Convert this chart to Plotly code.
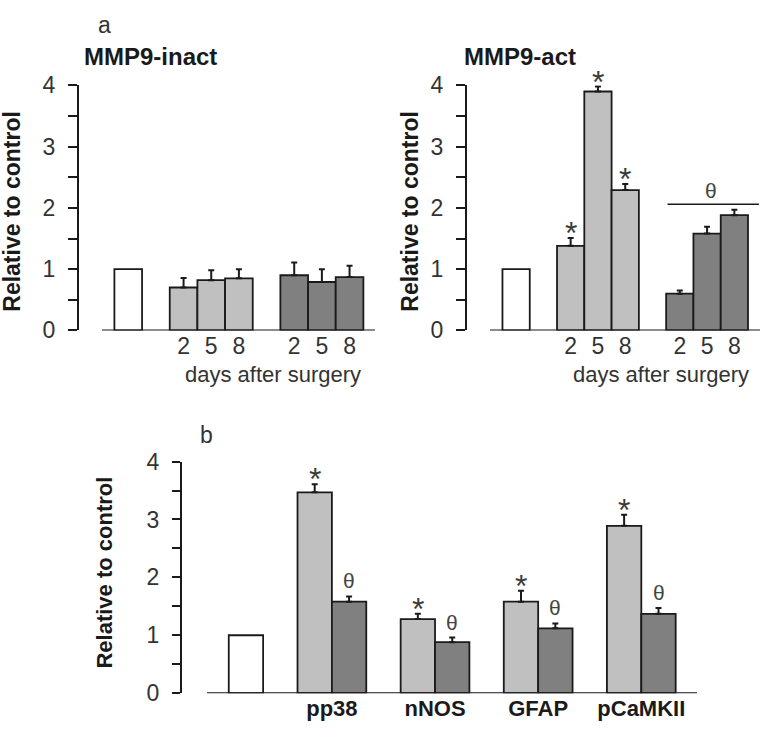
import plotly.graph_objects as go

# ---------------- data ----------------
ctrl_value = [1.0]

inact_light = [0.70, 0.82, 0.85]
inact_light_err = [0.155, 0.16, 0.15]
inact_dark = [0.90, 0.79, 0.87]
inact_dark_err = [0.21, 0.21, 0.185]

act_light = [1.38, 3.90, 2.29]
act_light_err = [0.13, 0.08, 0.10]
act_dark = [0.60, 1.58, 1.88]
act_dark_err = [0.05, 0.11, 0.09]

day_labels = ["2", "5", "8", "2", "5", "8"]

b_labels = ["pp38", "nNOS", "GFAP", "pCaMKII"]
b_light = [3.47, 1.28, 1.58, 2.89]
b_light_err = [0.14, 0.09, 0.19, 0.19]
b_dark = [1.58, 0.88, 1.12, 1.37]
b_dark_err = [0.09, 0.08, 0.085, 0.10]

y_tickvals = [0, 0.5, 1, 1.5, 2, 2.5, 3, 3.5, 4]
y_ticktext = ["0", "", "1", "", "2", "", "3", "", "4"]

# ---------------- layout helpers ----------------
W, H = 761, 737
FONT = "Liberation Sans, Arial, sans-serif"
LIGHT = "#c0c0c0"
DARK = "#808080"
AX = "#1a1a1a"
TXT = "#333333"


def px_x(p):
    return p / W


def px_y(p):
    return 1 - p / H


fig = go.Figure()

ctrl_pos = [0]
light_pos = [2, 3, 4]
dark_pos = [6, 7, 8]
b_light_pos = [2, 5, 8, 11]
b_dark_pos = [3, 6, 9, 12]
b_label_pos = [2.5, 5.5, 8.5, 11.5]


def add_bar(x, y, color, xa, ya, err=None):
    kw = {}
    if err is not None:
        kw["error_y"] = dict(type="data", symmetric=False, array=err,
                             arrayminus=[0] * len(err), thickness=2,
                             width=3, color=AX)
    fig.add_trace(go.Bar(x=x, y=y, width=1, marker=dict(color=color, line=dict(color=AX, width=1.8)),
                         xaxis=xa, yaxis=ya, showlegend=False, hoverinfo="skip", **kw))


add_bar(ctrl_pos, ctrl_value, "white", "x", "y")
add_bar(light_pos, inact_light, LIGHT, "x", "y", inact_light_err)
add_bar(dark_pos, inact_dark, DARK, "x", "y", inact_dark_err)
add_bar(ctrl_pos, ctrl_value, "white", "x2", "y2")
add_bar(light_pos, act_light, LIGHT, "x2", "y2", act_light_err)
add_bar(dark_pos, act_dark, DARK, "x2", "y2", act_dark_err)
add_bar(ctrl_pos, ctrl_value, "white", "x3", "y3")
add_bar(b_light_pos, b_light, LIGHT, "x3", "y3", b_light_err)
add_bar(b_dark_pos, b_dark, DARK, "x3", "y3", b_dark_err)

yaxis_common = dict(range=[0, 4], showline=True, linecolor=AX, linewidth=2,
                    ticks="outside", tickwidth=2, tickcolor=AX,
                    tickvals=y_tickvals, ticktext=y_ticktext, showgrid=False,
                    zeroline=False, tickfont=dict(family=FONT, size=23, color=TXT),
                    ticklabelstandoff=8)
xaxis_common = dict(showline=False, showgrid=False, zeroline=False, ticks="")

top_y = [px_y(329), px_y(75)]
fig.update_layout(
    width=W, height=H, margin=dict(l=0, r=0, t=0, b=0),
    paper_bgcolor="white", plot_bgcolor="white", barmode="overlay",
    xaxis=dict(domain=[px_x(79), px_x(375)], range=[-1.78, 8.92],
               tickvals=light_pos + dark_pos, ticktext=day_labels,
               tickfont=dict(family=FONT, size=23, color=TXT), **xaxis_common),
    yaxis=dict(domain=top_y, anchor="x", ticklen=9, **yaxis_common),
    xaxis2=dict(domain=[px_x(467), px_x(760)], range=[-1.8, 8.94], anchor="y2",
                tickvals=light_pos + dark_pos, ticktext=day_labels,
                tickfont=dict(family=FONT, size=23, color=TXT), **xaxis_common),
    yaxis2=dict(domain=top_y, anchor="x2", ticklen=9, **yaxis_common),
    xaxis3=dict(domain=[px_x(182), px_x(697)], range=[-1.86, 13.12], anchor="y3",
                tickvals=b_label_pos, ticktext=b_labels,
                tickfont=dict(family=FONT, size=22, color="#1a1a1a", weight="bold"), **xaxis_common),
    yaxis3=dict(domain=[px_y(705), px_y(465)], anchor="x3", ticklen=8, **yaxis_common),
)

for xr, yr, x0, x1 in [("x", "y", -0.95, 8.92), ("x2", "y2", -0.96, 8.94), ("x3", "y3", -1.13, 13.12)]:
    fig.add_shape(type="line", xref=xr, yref=yr, x0=x0, x1=x1, y0=0, y1=0,
                  line=dict(color=AX, width=2))

fig.add_shape(type="line", xref="x2", yref="y2", x0=5.55, x1=8.9, y0=2.06, y1=2.06,
              line=dict(color=AX, width=1.5))

ann = []


def star(xref, yref, x, y):
    ann.append(dict(xref=xref, yref=yref, x=x, y=y, text="*", showarrow=False,
                    yanchor="bottom", yshift=-15,
                    font=dict(family=FONT, size=32, color="#3a3a3a")))


def theta(xref, yref, x, y, shift=2):
    ann.append(dict(xref=xref, yref=yref, x=x, y=y, text="θ", showarrow=False,
                    yanchor="bottom", yshift=shift,
                    font=dict(family=FONT, size=21, color="#444")))


for p, v, e in zip(light_pos, act_light, act_light_err):
    star("x2", "y2", p, v + e)
for p, v, e in zip(b_light_pos, b_light, b_light_err):
    star("x3", "y3", p, v + e)
for p, v, e in zip(b_dark_pos, b_dark, b_dark_err):
    theta("x3", "y3", p, v + e)
theta("x2", "y2", 7.15, 2.06, 0)

for x, y, t, sz, bold, angle in [
    (px_x(104), px_y(12), "a", 23, False, 0),
    (px_x(207), px_y(437), "b", 23, False, 0),
    (px_x(150), px_y(45), "MMP9-inact", 24, True, 0),
    (px_x(520), px_y(45), "MMP9-act", 24, True, 0),
    (px_x(273), px_y(375), "days after surgery", 22, False, 0),
    (px_x(661), px_y(375), "days after surgery", 22, False, 0),
    (px_x(12), px_y(206), "Relative to control", 23, True, -90),
    (px_x(410), px_y(206), "Relative to control", 23, True, -90),
    (px_x(105), px_y(580), "Relative to control", 22, True, -90),
]:
    ann.append(dict(xref="paper", yref="paper", x=x, y=y, text=t, showarrow=False,
                    xanchor="center", yanchor="middle", textangle=angle,
                    font=dict(family=FONT, size=sz, color=TXT if not bold else "#1a1a1a",
                              weight="bold" if bold else "normal")))

fig.update_layout(annotations=ann)
fig.write_html("out.html", config={"displayModeBar": False},
               post_script="document.body.style.margin='0px';document.body.style.overflow='hidden';")
